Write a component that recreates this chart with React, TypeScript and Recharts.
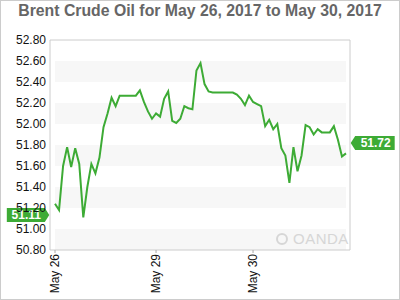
import React from 'react';
import { LineChart, Line, XAxis, YAxis, ReferenceArea, ReferenceLine } from 'recharts';

const title = 'Brent Crude Oil for May 26, 2017 to May 30, 2017';

// hourly Brent prices (weekend gap removed)
const prices = [
  51.24, 51.18, 51.60, 51.78, 51.59, 51.77, 51.62, 51.11, 51.40, 51.62,
  51.53, 51.68, 51.97, 52.10, 52.25, 52.17, 52.27, 52.27, 52.27, 52.27,
  52.27, 52.32, 52.21, 52.12, 52.05, 52.10, 52.07, 52.24, 52.31, 52.03,
  52.01, 52.05, 52.17, 52.15, 52.14, 52.51, 52.58, 52.38, 52.31, 52.30,
  52.30, 52.30, 52.30, 52.30, 52.30, 52.28, 52.24, 52.18, 52.27, 52.21,
  52.19, 52.17, 51.98, 52.04, 51.95, 52.00, 51.77, 51.70, 51.44, 51.78,
  51.55, 51.70, 51.99, 51.97, 51.90, 51.95, 51.92, 51.92, 51.92, 51.98,
  51.85, 51.69, 51.72,
];

const dayLabels = ['May 26', 'May 29', 'May 30'];
const dayTickIndex = [0, 25, 49];
const yTicks = [50.8, 51.0, 51.2, 51.4, 51.6, 51.8, 52.0, 52.2, 52.4, 52.6, 52.8];
const bandRanges: [number, number][] = [
  [52.4, 52.6], [52.0, 52.2], [51.6, 51.8], [51.2, 51.4], [50.8, 51.0],
];
const openPrice = 51.11;
const lastPrice = 51.72;

const data = prices.map((p, i) => ({ i, p }));

const GREEN = '#3dab35';
const FONT = '"Liberation Sans", Arial, sans-serif';

const DayTick = (props: any) => {
  const { x, y, payload } = props;
  const idx = dayTickIndex.indexOf(payload.value);
  const label = idx >= 0 ? dayLabels[idx] : '';
  return (
    <text
      x={x}
      y={y}
      transform={`rotate(-90 ${x} ${y})`}
      textAnchor="end"
      dy={3.5}
      fontSize={12}
      fontFamily={FONT}
      fill="#111"
    >
      {label}
    </text>
  );
};

const Badge = (props: any) => {
  const { viewBox, text, side, shift } = props;
  if (!viewBox) return null;
  const { x, y, width } = viewBox;
  const cy = y + shift;
  const h = 7;
  if (side === 'left') {
    const tip = x - 0.7;
    const d = `M${tip},${cy} L${tip - 4.5},${cy - h} L${tip - 42.5},${cy - h} L${tip - 42.5},${cy + h} L${tip - 4.5},${cy + h} Z`;
    return (
      <g>
        <path d={d} fill={GREEN} />
        <text x={tip - 23} y={cy} dy="0.36em" textAnchor="middle" fill="#fff" fontWeight="bold" fontSize={12} fontFamily={FONT}>
          {text}
        </text>
      </g>
    );
  }
  const tip = x + width + 0.7;
  const d = `M${tip},${cy} L${tip + 4.5},${cy - h} L${tip + 44},${cy - h} L${tip + 44},${cy + h} L${tip + 4.5},${cy + h} Z`;
  return (
    <g>
      <path d={d} fill={GREEN} />
      <text x={tip + 25} y={cy} dy="0.36em" textAnchor="middle" fill="#fff" fontWeight="bold" fontSize={12} fontFamily={FONT}>
        {text}
      </text>
    </g>
  );
};

export default function App() {
  return (
    <div style={{ position: 'absolute', left: 0, top: 0, width: 400, height: 300, background: '#fff', fontFamily: FONT }}>
      <LineChart
        width={400}
        height={300}
        data={data}
        margin={{ top: 40, right: 0, bottom: 0, left: 0 }}
      >
        {bandRanges.map(([a, b], k) => (
          <ReferenceArea key={k} yAxisId="l" y1={a} y2={b} fill="#f7f7f7" fillOpacity={1} stroke="none" />
        ))}
        <XAxis
          dataKey="i"
          type="number"
          domain={[0, prices.length - 1]}
          ticks={dayTickIndex}
          interval={0}
          padding={{ left: 5, right: 4 }}
          height={50}
          tickSize={3}
          tickMargin={1}
          axisLine={{ stroke: '#ccc' }}
          tickLine={{ stroke: '#aaa' }}
          tick={<DayTick />}
        />
        <YAxis
          yAxisId="l"
          orientation="left"
          width={50}
          domain={[50.8, 52.8]}
          ticks={yTicks}
          interval={0}
          tickFormatter={(v: number) => v.toFixed(2)}
          tickLine={false}
          tickSize={2}
          tickMargin={2}
          axisLine={{ stroke: '#ccc' }}
          tick={{ fontSize: 12, fill: '#111', fontFamily: FONT }}
        />
        <YAxis
          yAxisId="r"
          orientation="right"
          width={50}
          domain={[50.8, 52.8]}
          ticks={yTicks}
          interval={0}
          tickFormatter={(v: number) => v.toFixed(2)}
          tickSize={3}
          tickMargin={3}
          tickLine={{ stroke: '#999' }}
          axisLine={{ stroke: '#ccc' }}
          tick={{ fontSize: 12, fill: '#111', fontFamily: FONT, textAnchor: 'start' }}
        />
        <ReferenceLine yAxisId="l" y={52.8} stroke="#ccc" />
        <Line
          yAxisId="l"
          type="linear"
          dataKey="p"
          stroke={GREEN}
          strokeWidth={2}
          dot={false}
          activeDot={false}
          isAnimationActive={false}
        />
        <ReferenceLine
          yAxisId="l"
          y={openPrice}
          stroke="none"
          label={(p: any) => <Badge viewBox={p.viewBox} text={openPrice.toFixed(2)} side="left" shift={-2.5} />}
        />
        <ReferenceLine
          yAxisId="l"
          y={lastPrice}
          stroke="none"
          label={(p: any) => <Badge viewBox={p.viewBox} text={lastPrice.toFixed(2)} side="right" shift={-10.5} />}
        />
      </LineChart>
      <div
        style={{
          position: 'absolute', left: 0, top: 3, width: 400, textAlign: 'center',
          fontSize: 15.8, lineHeight: '16px', fontWeight: 'bold', color: '#666', fontFamily: FONT,
        }}
      >
        {title}
      </div>
      <div
        style={{
          position: 'absolute', left: 276, top: 232, display: 'flex', alignItems: 'center',
          color: '#d6d6d6', fontSize: 15, lineHeight: '14px', fontFamily: FONT, letterSpacing: 0.5,
        }}
      >
        <span style={{ display: 'inline-block', width: 12, height: 12, borderRadius: 6, border: '2px solid #d6d6d6', boxSizing: 'border-box', marginRight: 5 }} />
        <span>OANDA</span>
      </div>
      <div
        style={{
          position: 'absolute', left: 0, top: 0, width: 400, height: 300, boxSizing: 'border-box',
          border: '1px solid #ccc', pointerEvents: 'none',
        }}
      />
    </div>
  );
}
